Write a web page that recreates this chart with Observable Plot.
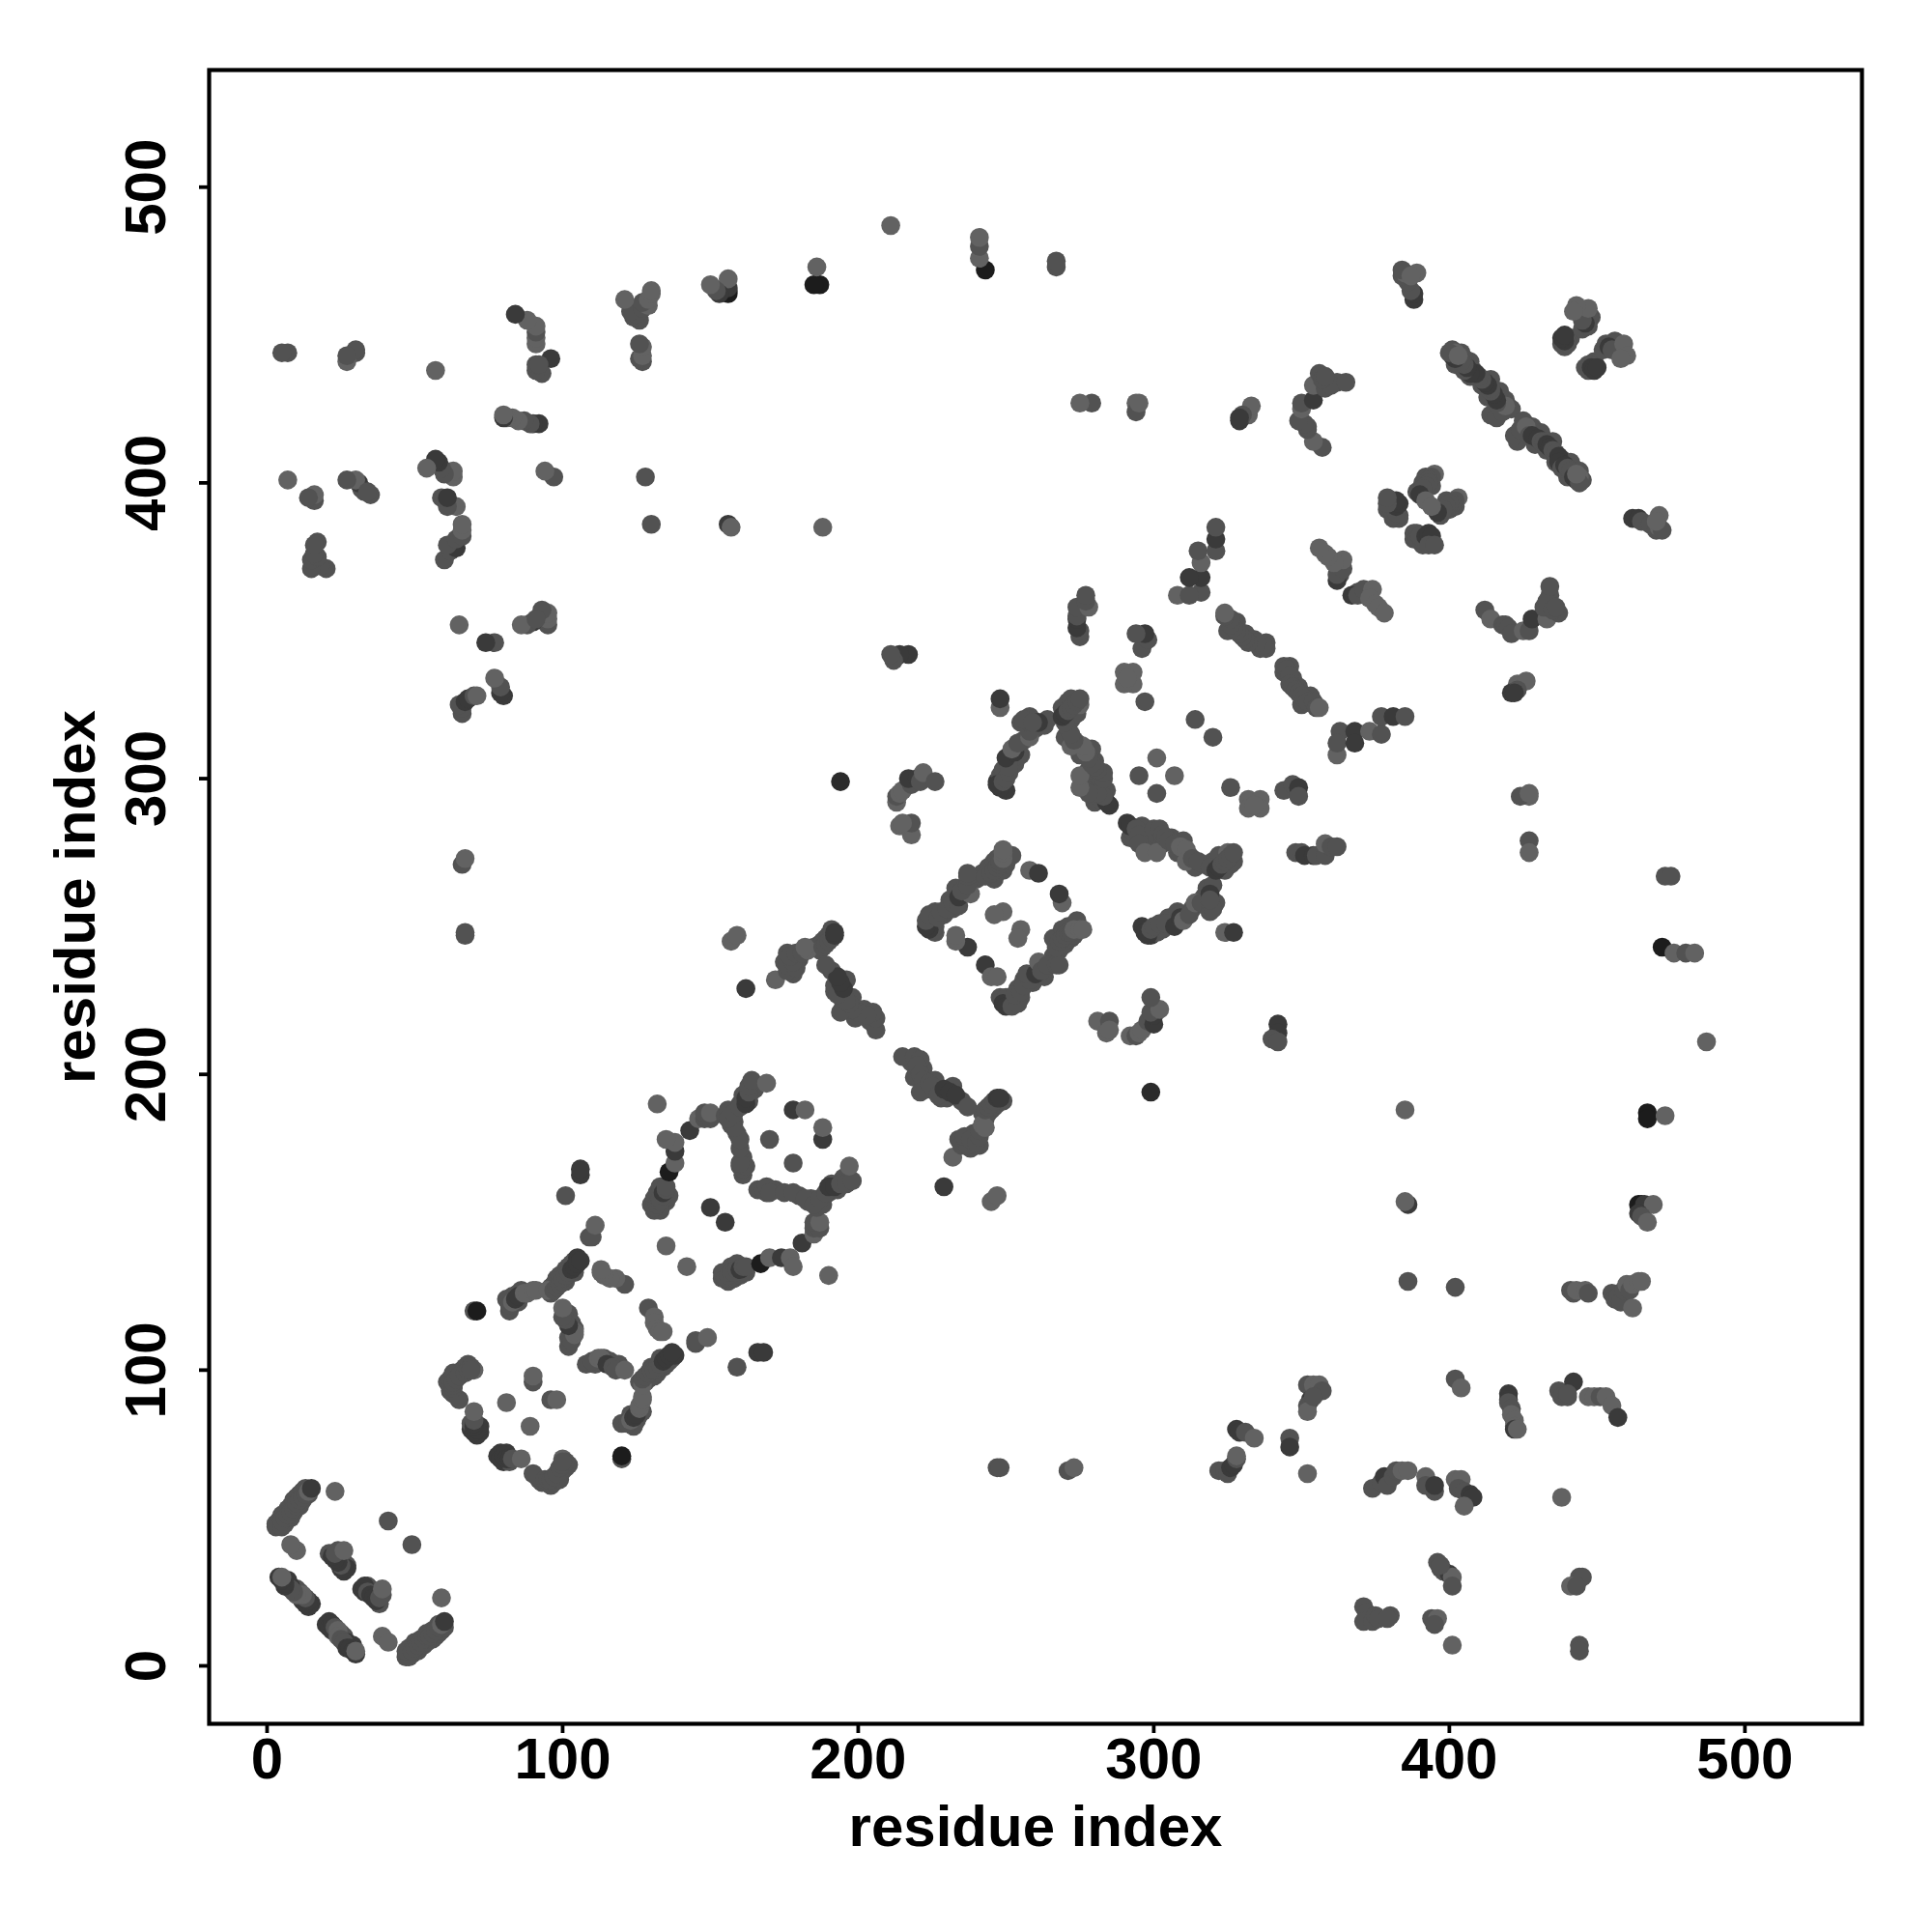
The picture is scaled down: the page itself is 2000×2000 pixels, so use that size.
<!DOCTYPE html>
<html>
<head>
<meta charset="utf-8">
<script src="https://cdn.jsdelivr.net/npm/d3@7"></script>
<script src="https://cdn.jsdelivr.net/npm/@observablehq/plot@0.6"></script>
<style>html,body{margin:0;padding:0;background:#fff}svg{display:block}</style>
</head>
<body>
<div id="chart"></div>
<script>
// Residue contacts [i, j, strength]; the contact map is symmetric, so each pair is listed once (i > j).
// Strength: 1 weak ... 4 strongest; omitted = 2.
const contactsNTerminal = [
[47,3],[49,4],[50,5],[51,5],[52,7],[53,7],[54,8],[55,9],[56,9],[57,10],[58,11],[59,12],[60,13],[50,8],[52,9],[54,11],[56,12],[58,14],[48,6],
[48,3],[47,5],[49,5],[50,6],[51,7],[52,8],[53,9],[54,10],[55,10],[56,11],[57,12],[58,13],[59,14,1],[60,15,3],
[39,10,1],[41,8,1],[59,23,1],[49,41],
[21,15,3],[22,12,3],[25,11],[26,10],[27,8,3],[28,7,3],[30,4,3],[29,7,3],
[20,14,3],[21,13,3],[22,14,3],[23,13,2],[24,12,1],[24,10,1],[25,9,2],[26,8,2],[27,6,3],[28,6,3],[29,5,3],[30,5,1],
[34,27],[35,26],[36,25],[37,24],[38,21],[39,24],
[32,26,3],[33,27,3],[33,25,3],[34,25,2],[35,24,3],[36,23,3],[37,22,3],[38,23,2],[39,26,1]
];
const contactsFirstDomain = [
[79,72,3],[80,69,3],[81,72,3],[82,69],[92,63],[93,62],[96,61],[97,62],[99,63],[100,66],[101,67],[102,68],[100,70,1],
[78,71,3],[79,70,3],[80,71,3],[81,70,3],[82,70,3],[83,70,2],[86,70,1],
[90,65],[94,63],[95,63],[96,63],[97,64],[98,65],[99,67],[100,68],[101,69],[100,69],
[96,90],[98,90,1],[89,81,1],[120,70],[120,71,4],
[123,85],[125,83],[127,86],[124,81],[126,85],
[120,82],[122,82],[123,83,1],[124,84,3],[125,85,3],[126,87,1],[126,88,1],[127,90,1],[127,91,1],
[126,96],[128,96],[129,97],[131,98],[130,101],[132,99],[134,101],[135,102],[136,103],[133,104],[137,104],[138,105,3],
[127,95,1],[127,97],[128,98],[129,99],[130,100],[131,100],[132,101],[133,102],[134,103,3],[135,104,3],[136,105,3],[137,106,3],
[108,102],[111,102],[114,104],[116,103],[119,102],
[110,103],[112,104,1],[113,104,1],[115,102,3],[117,101],[118,100],[121,100,1],
[129,121],[131,118,1],[131,116,1],[132,114,1],[133,113,1],[134,113,1],
[145,109],[145,110],[149,111,1],[159,101],[166,106,3],[168,106,3],
[156,130],[158,131],[160,132],[162,133],[157,135],[159,136],[154,131],[154,133],
[155,131],[156,132],[157,133],[158,133],[159,134],[160,134,3],[161,135],[162,135],
[142,135,1],[155,150,3],
[167,136,4],[170,138,1],[174,138,3],[177,138,1],[178,135,1],[190,132,1],
[181,143,3],[185,146,1],[185,148],[187,148],[185,150],[187,150,1],
[169,160],[172,161],[180,159],[183,157],[186,155],[184,158],[188,156],[190,160],[191,163],[193,161],[195,165],
[166,161],[168,161],[169,162],[170,160],[175,160],[178,160],[182,158],[185,156],[187,158],[189,160],[190,162,3],[192,162,3],[194,163],[196,163],[198,164],[197,169,1],
[178,170],[188,178,3],[188,182,1]
];
const contactsSecondDomain = [
[229,162,3],[245,157,1],[247,159,1],
[234,178],[238,175],[239,180],[241,176],[243,185],[244,187],[242,187],[245,188],[246,189],[247,190],[249,191],
[232,172,1],[235,176],[237,176],[236,179],[238,178],[240,177],[241,179],[241,181],[242,183,1],[243,182,1],
[243,188],[244,189],[245,190],[246,191],[247,192,3],[248,192,3],
[218,204],[222,202],[219,199],[223,195],[226,198],[228,192],[230,192],[232,196],[235,191],
[215,206],[219,206],[221,205],[220,203],[221,200],[222,198],[221,194],[224,197],[225,196],[227,193],[229,195,3],[231,194,3],[233,193,3],[237,189],
[247,67],[248,67],[271,66],[273,67,1],
[248,226],[251,224],[253,225],[255,226],[254,229],[256,232],[259,231],[263,233],[266,240],[266,246],[268,242],[269,249],[270,244],[272,246],[271,250],[273,247],[274,251],[274,252],
[250,226],[249,224,3],[250,223,3],[252,223],[254,224],[253,227],[255,228],[256,230],[258,232],[257,234],[260,234,3],[261,238,1],[262,235],[264,237],[267,237],[268,237],
[267,243],[268,245],[269,246],[270,247],[271,248],[272,248],[273,249,1],[275,249,1],[276,249,1],
[243,237,3],[245,233,1],[247,233,1],[269,258,1],[268,261,3],[255,249,1],[254,246,1],
[281,218,1],[285,218],[284,214,1],[285,215,1],
[292,213,1],[294,213],[295,214,1],[296,215,1],[298,218],[300,217,3],[300,220,3],[299,221],[302,222,1],[299,226],
[299,194,3.5]
];
const contactsThirdDomain = [
[296,250,3],[299,247,3],[301,248],[303,249],[305,253],[308,255],[313,256],[317,260],[321,258],[318,263],[320,264],
[297,248,3],[298,247,3],[299,249],[300,250],[302,251],[304,251],[307,250,3],[309,253,3],[310,252,1],[312,254],[314,258,1],[316,258],[319,255],[319,258,2],[319,261,3],[320,256],[319,259],[324,248,1],[327,248,3],
[292,280],[293,282],[296,284],[298,280],[299,278],[300,279],[301,281],[303,278],[306,280],[308,275],[310,279],[312,274],[314,270],[317,271],[320,272],[322,274],[324,269],[326,271],[327,272],[325,275,1],
[291,285,3],[292,284,3],[294,283],[295,281],[295,278],[297,275,1],[301,275,1],[300,283],[302,283],[303,281],[304,280],[305,279],[307,278],[309,277,1],[311,276,1],[311,272,1],[313,273],[315,272],[319,270],[321,269,3],[322,270,3],[323,271],[324,272],[325,273],[326,274],[327,275],
[307,301,1],[301,295],[320,314],[326,297],
[332,293,1],[336,293,1],[332,290,1],[336,290,1],[334,291,1],
[344,296],[347,298],[349,297,3],[349,294],
[348,275],[350,275],[351,274,3],[354,274,3],[355,274],[358,274],[358,278,1],[360,277],[362,277],
[363,316],[362,308,1],[362,312],[368,316,3],[368,312,3],[373,316,1],[377,315],[377,321],[381,321,3],[385,321],
[346,338],[347,334],[349,331],[350,325],[353,328],[344,336],
[344,338],[345,337],[346,335],[346,332],[347,331],[348,330],[349,329],[350,328],[351,327],[352,326],[354,326],[355,324],[356,324,1],
[369,363],[367,362,3],[369,362],[371,364],[374,364,1],[373,361,1],[375,359,1],[376,358,1],[378,356,1]
];
const contactsLongRange = [
[342,217,3],[342,214,3],[340,212],[342,211],
[427,294,1],[424,294],[427,295,1],[427,279],[427,275,1],[473,267],[475,267],
[472,243,4],[476,241,1],[480,241],[483,241,1],[487,211,1],
[385,188,1],[467,187,4],[467,185,4],[473,186,1],
[386,156,3],[385,157,1],[464,156,4],[465,156,4],[466,156,3],[466,155,3],[469,156,1],[464,153,3],[465,152],[467,150,1],
[386,130],[402,128],[441,127],[442,126],[443,127,1],[446,127,1],[447,126],[455,126],[456,124],[457,125],[458,123],[459,127],[460,129,1],[461,127],[462,121,1],[462,129,1],[464,130,1],[465,130,1],
[352,95],[354,95,1],[356,95,1],[357,93],[353,90,3],[352,88],[352,86,1],[354,91],
[322,66],[324,66],[325,65],[326,67,3],[327,68,3],[328,70],[328,71,1],[328,80,3],[329,79,3],[331,79],[334,77,1],
[346,77],[346,74,3],[352,65,1],
[402,97],[404,94,1],
[420,92,3],[420,90,3],[420,89,2],[421,87],[421,85,1],[422,83,1],[422,81,1],[422,80,3],[423,80,1],
[437,93],[438,91],[440,91],[442,96,3],[440,92],[447,91,1],[449,91,1],[451,91],[453,91,1],[455,88,1],[457,84,3],[438,57,1],
[374,60],[377,62],[378,64,3],[379,61],[381,64],[382,66],[384,66,1],[386,66,1],[392,64,1],[392,61],[395,59],[395,61,3],
[402,63,1],[404,63,1],[403,60],[405,59],[407,58,3],[408,57,3],[405,54,1],
[396,35],[397,33],[398,32],[400,31,3],[401,30,1],[401,27],[397,34],
[444,30],[445,30],[441,27,1],[443,27],
[371,20],[372,18],[371,15],[374,15],[375,17],[376,16],[380,17],[379,16],
[394,16],[396,16,1],[395,14],[401,7,1],[444,7],[444,5],
[423,332,1],[426,333,1],[421,329,3],[423,330],[422,329,3],
[412,357],[414,354,1],[418,352],[419,352],[420,351],[421,349],[425,350,1],[427,350],[428,354,3],[433,354,1],[432,358],[434,362],[433,360],[434,365],[437,356],[435,357],[436,358],
[462,388,3],[464,388,3],[465,387],[468,386],[470,384],[471,385,1],[472,384],[471,389,1],[470,387,1]
];
const contactsCTerminal = [
[447,438],[449,441],[452,445],[456,448],
[446,439],[447,440],[448,439,3],[449,438,3],[450,439,3],[453,447],[454,446,3],[455,445],[459,447,1],[460,443,1],[458,442,1],
[423,414],[425,421],[428,419],[429,413],[431,417],[433,411],[435,414],[436,407],[438,408],[440,402],[441,407],[442,405],[444,404],[445,401],
[422,416],[424,418],[426,419,1],[427,416],[428,416,3],[430,415,3],[431,414],[432,414],[433,413,3],[434,412,3],[435,411],[436,410],[437,409,3],[437,407,3],[438,405],[439,406,3],[440,405],[441,404],[442,402,3],[443,401,3],[444,402,1],[444,400],[443,403,1],
[399,394],[400,391],[402,392],[397,389],[389,383],[391,379],[394,380],[388,381],
[403,395,1],[402,394],[401,393],[400,393],[399,392],[398,391],[396,390,3],[394,392,1],
[388,383],[389,381],[390,382],[392,382,3],[393,383,3],[394,382,3],[393,379],[395,379]
];

const segments = [contactsNTerminal, contactsFirstDomain, contactsSecondDomain, contactsThirdDomain, contactsLongRange, contactsCTerminal];
const defaultStrength = 2;
const axisTicks = [0, 100, 200, 300, 400, 500];
const axisName = "residue index";

const half = segments.flat().map(([i, j, s]) => ({i, j, s: s ?? defaultStrength}));
const contacts = [...half.map(d => ({x: d.j, y: d.i, s: d.s})), ...half.map(d => ({x: d.i, y: d.j, s: d.s}))];

const chart = Plot.plot({
  width: 2000,
  height: 2000,
  marginLeft: 216,
  marginRight: 73,
  marginTop: 72,
  marginBottom: 216,
  style: {fontFamily: "'Liberation Sans', Arial, sans-serif", fontWeight: "bold", fontSize: "60px", color: "#000", background: "#fff"},
  x: {domain: [-19.6, 539.6]},
  y: {domain: [-19.6, 539.6]},
  color: {type: "linear", domain: [1, 2, 3, 4], range: ["#626262", "#525252", "#3a3a3a", "#1c1c1c"], interpolate: "rgb"},
  marks: [
    Plot.dot(contacts, {x: "x", y: "y", r: 9.8, fill: "s"}),
    Plot.frame({stroke: "#000", strokeWidth: 4.2}),
    Plot.axisX({ticks: axisTicks, tickSize: 10, tickPadding: 4, tickFormat: d => String(d), strokeWidth: 3.8, stroke: "#000", label: axisName, labelAnchor: "center", labelArrow: "none", labelOffset: 126}),
    Plot.axisY({ticks: axisTicks, tickSize: 10, tickPadding: 36, tickRotate: -90, tickFormat: d => String(d), strokeWidth: 3.8, stroke: "#000", label: axisName, labelAnchor: "center", labelArrow: "none", labelOffset: 161})
  ]
});
document.getElementById("chart").append(chart);
</script>
</body>
</html>
